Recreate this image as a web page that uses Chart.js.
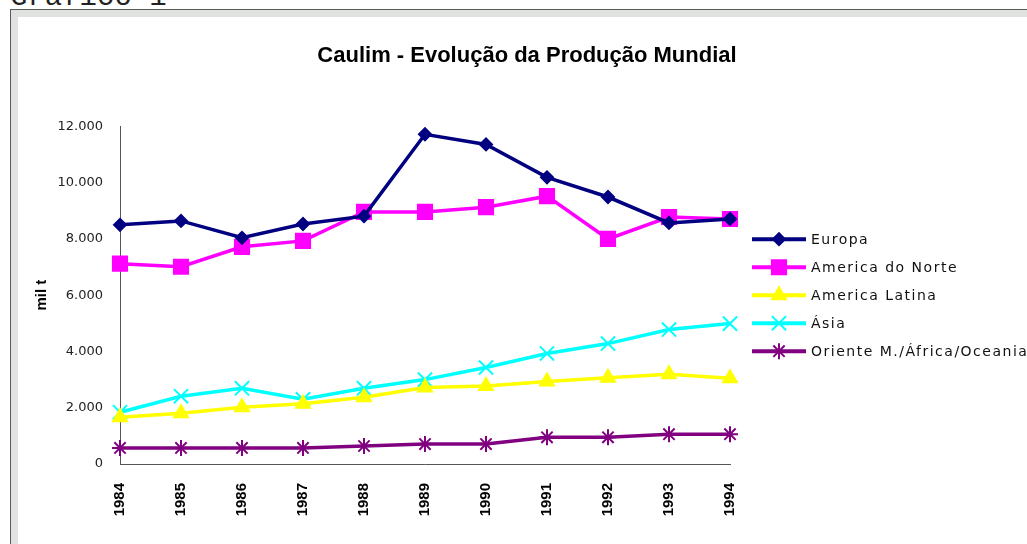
<!DOCTYPE html>
<html>
<head>
<meta charset="utf-8">
<script src="https://cdn.jsdelivr.net/npm/chart.js@4/dist/chart.umd.min.js"></script>
<style>
  body { margin: 0; background: #fff; width: 1027px; height: 544px; overflow: hidden; position: relative; }
  #caption { position: absolute; left: 10px; top: -17px; font: 29px/29px "Liberation Mono", monospace; color: #222; white-space: nowrap; }
  #frame { position: absolute; left: 10px; top: 9px; width: 1100px; height: 600px; border-left: 1px solid #5a5a5a; border-top: 1px solid #5a5a5a; }
  #band { position: absolute; left: 0; top: 0; right: 0; bottom: 0; border-left: 7px solid #dfe2df; border-top: 7px solid #dfe2df; }
  #chart { position: absolute; left: 0; top: 0; }
</style>
</head>
<body>
<div id="caption">Gráfico 1</div>
<div id="frame"><div id="band"></div></div>
<canvas id="chart" width="1027" height="544"></canvas>
<script>
// values in mil t
var years = ["1984", "1985", "1986", "1987", "1988", "1989", "1990", "1991", "1992", "1993", "1994"];
var europa = [8500, 8640, 8040, 8530, 8810, 11720, 11360, 10190, 9490, 8570, 8710];
var americaNorte = [7120, 7010, 7720, 7930, 8960, 8960, 9130, 9520, 8000, 8780, 8710];
var americaLatina = [1660, 1800, 2020, 2140, 2370, 2720, 2770, 2930, 3070, 3190, 3050];
var asia = [1840, 2410, 2690, 2300, 2690, 3000, 3430, 3930, 4280, 4780, 4990];
var oriente = [570, 570, 570, 570, 640, 710, 710, 950, 950, 1060, 1060];
var yTicks = [0, 2000, 4000, 6000, 8000, 10000, 12000];

function serie(label, data, color, style, radius) {
    return {
        label: label,
        data: data,
        borderColor: color,
        backgroundColor: color,
        borderWidth: 3.5,
        pointStyle: style,
        pointRadius: radius,
        pointHoverRadius: radius,
        pointBorderWidth: 2,
        pointBackgroundColor: color,
        pointBorderColor: color,
        tension: 0
    };
}

// legend drawn by hand (line + marker + text) in the space kept by the 'legendArea' axis
var lineLegend = {
    id: 'lineLegend',
    afterDraw: function (chart) {
        var ctx = chart.ctx;
        var area = chart.chartArea;
        var x0 = area.right + 22;
        var yc = (area.top + area.bottom) / 2;
        var n = chart.data.datasets.length;
        chart.data.datasets.forEach(function (ds, i) {
            var y = yc + (i - (n - 1) / 2) * 28;
            ctx.save();
            ctx.strokeStyle = ds.borderColor;
            ctx.lineWidth = 4;
            ctx.beginPath();
            ctx.moveTo(x0, y);
            ctx.lineTo(x0 + 54, y);
            ctx.stroke();
            ctx.fillStyle = ds.pointBackgroundColor;
            ctx.strokeStyle = ds.pointBorderColor;
            ctx.lineWidth = ds.pointBorderWidth;
            Chart.helpers.drawPoint(ctx, {pointStyle: ds.pointStyle, rotation: 0, radius: ds.pointRadius, borderWidth: ds.pointBorderWidth},
                x0 + 27, y);
            ctx.fillStyle = '#111';
            ctx.font = '14px "DejaVu Sans"';
            ctx.letterSpacing = '1.5px';
            ctx.textBaseline = 'middle';
            ctx.textAlign = 'left';
            ctx.fillText(ds.label, x0 + 59, y + 1);
            ctx.restore();
        });
    }
};

var ctx = document.getElementById("chart").getContext("2d");
var chart = new Chart(ctx, {
    type: 'line',
    data: {
        labels: years,
        datasets: [
            serie('Europa', europa, '#000080', 'rectRot', 6),
            serie('America do Norte', americaNorte, '#ff00ff', 'rect', 10),
            serie('America Latina', americaLatina, '#ffff00', 'triangle', 8),
            serie('Ásia', asia, '#00ffff', 'crossRot', 10),
            serie('Oriente M./África/Oceania', oriente, '#800080', 'star', 8)
        ]
    },
    plugins: [lineLegend],
    options: {
        responsive: false,
        animation: false,
        layout: { padding: { left: 27, right: 0, top: 0, bottom: 0 } },
        plugins: {
            title: {
                display: true,
                text: 'Caulim - Evolução da Produção Mundial',
                color: '#000',
                font: { family: 'Liberation Sans', size: 22, weight: 'bold' },
                padding: { top: 43, bottom: 57 }
            },
            legend: { display: false },
            tooltip: { enabled: false }
        },
        scales: {
            x: {
                offset: false,
                grid: { display: false },
                border: { display: true, color: '#555', width: 1 },
                ticks: {
                    maxRotation: 90,
                    minRotation: 90,
                    padding: 11,
                    color: '#000',
                    font: { family: 'Liberation Sans', size: 15, weight: 'bold' }
                },
                afterFit: function (s) { s.height = 80; }
            },
            y: {
                min: 0,
                max: 12000,
                grid: { display: false },
                border: { display: true, color: '#555', width: 1 },
                afterBuildTicks: function (s) { s.ticks = yTicks.map(function (v) { return {value: v}; }); },
                ticks: {
                    padding: 9,
                    color: '#222',
                    font: { family: 'DejaVu Sans', size: 13 },
                    callback: function (v) { return v.toLocaleString('pt-BR'); }
                },
                title: {
                    display: true,
                    text: 'mil t',
                    color: '#000',
                    font: { family: 'Liberation Sans', size: 15, weight: 'bold' },
                    padding: { top: 6, bottom: 0 }
                },
                afterFit: function (s) { s.width = 93; }
            },
            legendArea: {
                type: 'linear',
                position: 'right',
                grid: { display: false },
                border: { display: false },
                ticks: { display: false },
                afterFit: function (s) { s.width = 297; }
            }
        }
    }
});
</script>
</body>
</html>
